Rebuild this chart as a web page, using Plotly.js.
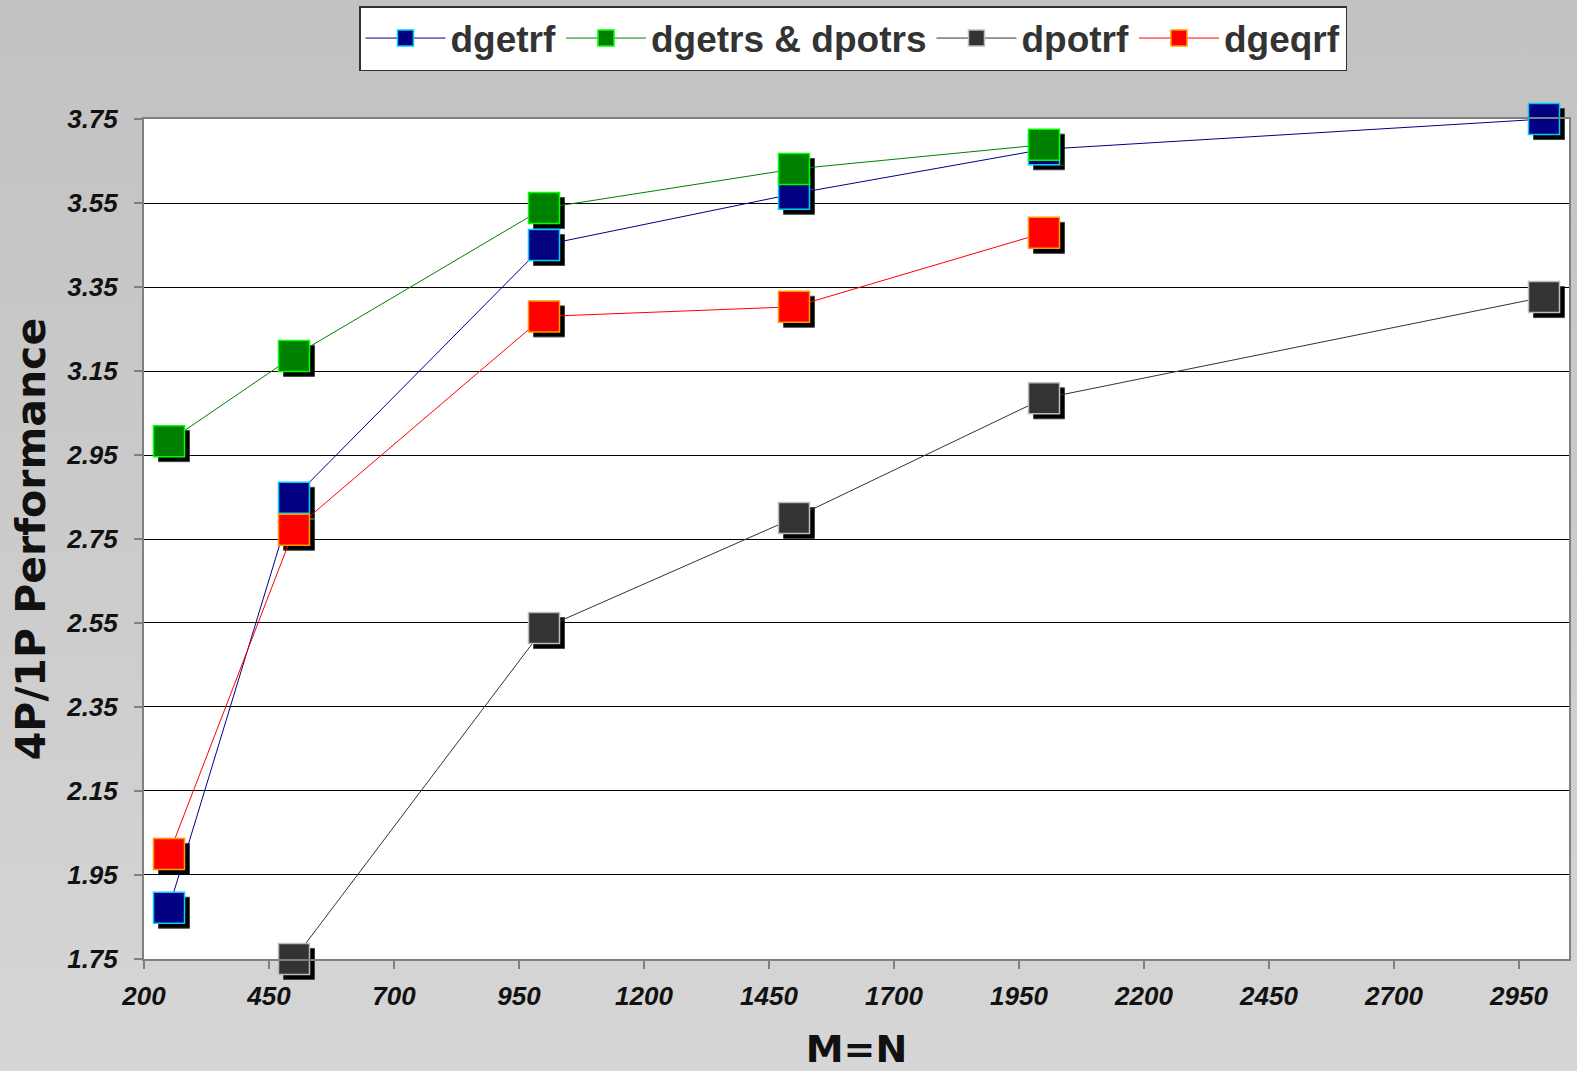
<!DOCTYPE html>
<html>
<head>
<meta charset="utf-8">
<script src="https://cdn.plot.ly/plotly-3.0.1.min.js"></script>
<style>
  html, body { margin: 0; padding: 0; }
  body { width: 1577px; height: 1071px; background: linear-gradient(to bottom, #c2c2c2 0%, #cbcbcb 50%, #d6d6d6 100%); overflow: hidden; }
  #chart { width: 1577px; height: 1071px; }
</style>
</head>
<body>
<div id="chart"></div>
<script>
// ---- data ----
const matrixSizes = [250, 500, 1000, 1500, 2000, 3000];
const seriesNames = ["dgetrf", "dgetrs & dpotrs", "dpotrf", "dgeqrf"];
const dgetrf = [1.872, 2.848, 3.450, 3.572, 3.678, 3.750];
const dgetrsDpotrs = [2.983, 3.186, 3.538, 3.631, 3.689, null];
const dpotrf = [null, 1.750, 2.538, 2.800, 3.085, 3.326];
const dgeqrf = [2.000, 2.772, 3.280, 3.303, 3.479, null];
const xTickStart = 200, xTickStep = 250;
const yTickStart = 1.75, yTickStep = 0.2;

// ---- styling ----
const fills = ["#000080", "#008000", "#333333", "#FF0000"];
const borders = ["#00CCFF", "#00FF00", "#BDBDBD", "#FF9900"];
const values = [dgetrf, dgetrsDpotrs, dpotrf, dgeqrf];

const W = 1577, H = 1071;
const mL = 144, mR = 3, mT = 119, mB = 107;
const plotW = W - mL - mR, plotH = H - mT - mB;
const shadowPx = 5;
const sx = shadowPx / plotW, sy = shadowPx / plotH;

const traces = [];
// shadows (lower subplot, shifted right/down)
values.forEach((v, i) => {
  traces.push({
    x: matrixSizes, y: v, type: "scatter", mode: "markers",
    xaxis: "x", yaxis: "y", showlegend: false, hoverinfo: "skip",
    cliponaxis: false,
    marker: { symbol: "square", size: 31, color: "#000000", line: { color: "#444444", width: 1 } }
  });
});
// main series
values.forEach((v, i) => {
  traces.push({
    x: matrixSizes, y: v, type: "scatter", mode: "lines+markers",
    name: seriesNames[i], xaxis: "x2", yaxis: "y2", cliponaxis: false,
    line: { color: fills[i], width: 1 },
    marker: { symbol: "square", size: 31, color: fills[i], line: { color: borders[i], width: 1.5 } }
  });
});

const xRange = [200, 3050], yRange = [1.7499, 3.7501];
const tickFont = { family: "Liberation Sans, Arial, sans-serif", size: 26, color: "#111111", weight: "bold", style: "italic" };

const layout = {
  width: W, height: H,
  margin: { l: mL, r: mR, t: mT, b: mB },
  paper_bgcolor: "rgba(0,0,0,0)",
  plot_bgcolor: "rgba(0,0,0,0)",
  showlegend: true,
  xaxis: { domain: [sx, 1], range: xRange, visible: false, fixedrange: true },
  yaxis: { domain: [0, 1 - sy], range: yRange, visible: false, fixedrange: true },
  xaxis2: {
    domain: [0, 1 - sx], range: xRange, anchor: "y2",
    tickmode: "linear", tick0: xTickStart, dtick: xTickStep,
    showgrid: false, zeroline: false,
    showline: true, mirror: true, linecolor: "#808080", linewidth: 2,
    ticks: "outside", ticklen: 8, tickwidth: 1.5, tickcolor: "#808080",
    ticklabelstandoff: 5,
    tickfont: tickFont,
    title: { text: "M=N", font: { family: "DejaVu Sans, Verdana, sans-serif", size: 38, color: "#111111", weight: "bold" }, standoff: 37 },
    automargin: false
  },
  yaxis2: {
    domain: [sy, 1], range: yRange, anchor: "x2",
    tickmode: "linear", tick0: yTickStart, dtick: yTickStep, tickformat: ".2f",
    showgrid: true, gridcolor: "#000000", gridwidth: 1, zeroline: false,
    showline: true, mirror: true, linecolor: "#808080", linewidth: 2,
    ticks: "outside", ticklen: 8, tickwidth: 1.5, tickcolor: "#808080",
    ticklabelstandoff: 11,
    tickfont: tickFont,
    title: { text: "4P/1P Performance", font: { family: "DejaVu Sans, Verdana, sans-serif", size: 41, color: "#111111", weight: "bold" }, standoff: 8 },
    automargin: false
  },
  shapes: [{
    type: "rect", xref: "paper", yref: "paper", x0: 0, x1: 1 - sx, y0: sy, y1: 1,
    fillcolor: "#FFFFFF", line: { width: 0 }, layer: "below"
  }],
  legend: {
    orientation: "h", xref: "container", yref: "container",
    x: 359 / W, xanchor: "left", y: 1 - 6 / H, yanchor: "top",
    bgcolor: "#FFFFFF", bordercolor: "#333333", borderwidth: 1.5,
    font: { family: "Liberation Sans, Arial, sans-serif", size: 37, color: "#333333", weight: "bold" },
    itemwidth: 80, itemsizing: "trace"
  }
};

Plotly.newPlot("chart", traces, layout, { staticPlot: true, displayModeBar: false });
</script>
</body>
</html>
